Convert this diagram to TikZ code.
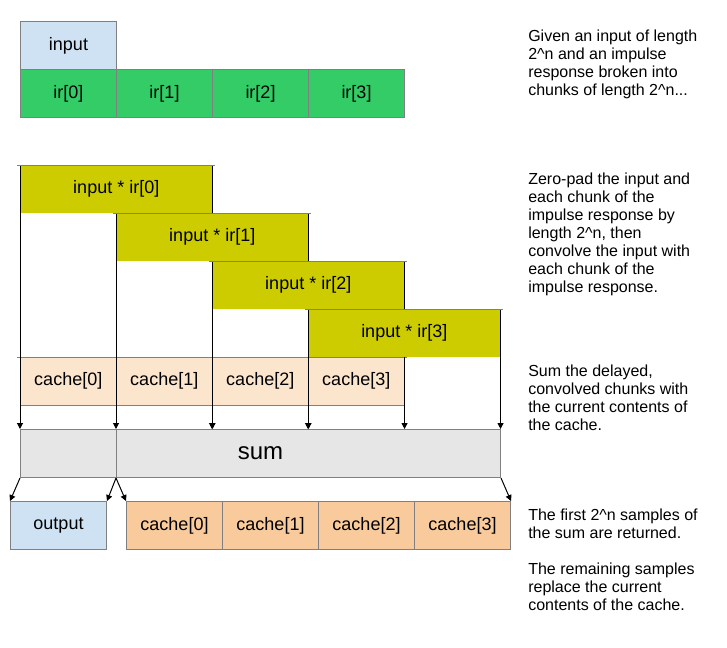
\documentclass[tikz,border=0pt]{standalone}
\usepackage{fontspec}
\setmainfont{Liberation Sans}
\usetikzlibrary{arrows.meta,positioning}
\definecolor{inblue}{HTML}{CFE2F3}
\definecolor{irgreen}{HTML}{33CC66}
\definecolor{convyel}{HTML}{CCCC00}
\definecolor{cachelt}{HTML}{FCE5CD}
\definecolor{cachedk}{HTML}{F9CB9C}
\definecolor{sumgray}{HTML}{E6E6E6}
\definecolor{edgegray}{HTML}{808080}
\pgfdeclarelayer{back}
\pgfdeclarelayer{mid}
\pgfsetlayers{back,mid,main}

\begin{document}
\begin{tikzpicture}[x=0.75pt, y=-0.75pt,
    every node/.style={font=\fontsize{13.5}{15}\selectfont},
    cell/.style={draw=edgegray, line width=0.75pt, minimum width=72pt,
                 minimum height=36pt, inner sep=0pt, anchor=north west},
    band/.style={minimum width=72pt, minimum height=36pt, inner sep=0pt,
                 anchor=north west},
    conv/.style={band, fill=convyel, minimum width=144pt},
    rim/.style={draw=edgegray, line width=0.75pt},
    side/.style={line width=0.75pt},
    arr/.style={-{Triangle[length=4.5pt, width=4.5pt]}, line width=0.75pt},
    note/.style={anchor=north west, inner sep=0pt, align=left,
                 font=\fontsize{12}{13.5}\selectfont},
  ]
  \useasboundingbox (0,0) rectangle (727,647);

  % input and the chunks of the impulse response
  \node[cell, fill=inblue] (in) at (20,21) {input};
  \foreach \i in {0,...,3}
    \node[cell, fill=irgreen] (ir\i) at (20+96*\i,69) {ir[\i]};

  % convolutions
  \foreach \i in {0,...,3} {
    \node[conv] (cv\i) at (20+96*\i,165+48*\i) {input * ir[\i]};
    \draw[side] (cv\i.north west) -- (cv\i.south west);
    \draw[side] (cv\i.north east) -- (cv\i.south east);
    \draw[rim] ([xshift=-2pt]cv\i.north west) -- ([xshift=2pt]cv\i.north east);
  }

  % cache
  \begin{pgfonlayer}{back}
    \foreach \i in {0,...,3}
      \node[band, fill=cachelt] (ca\i) at (20+96*\i,357) {cache[\i]};
    \draw[rim] ([xshift=-2pt]ca0.north west) -- ([xshift=2pt]ca3.north east);
    \draw[rim] (ca0.south west) -- (ca3.south east);
  \end{pgfonlayer}

  % sum
  \node[cell, fill=sumgray, minimum width=360pt,
        font=\fontsize{18}{20}\selectfont] (sum) at (20,429) {sum};
  \draw[rim] (ca1.north west |- sum.north) -- (ca1.north west |- sum.south);
  \coordinate (split) at (ca1.north west |- sum.south);

  \begin{pgfonlayer}{mid}
    \foreach \i in {0,...,3} {
      \draw[arr] (cv\i.north west) -- (cv\i.north west |- sum.north);
      \draw[arr] (cv\i.north east) -- (cv\i.north east |- sum.north);
    }
  \end{pgfonlayer}

  % output and new cache
  \node[cell, fill=inblue] (out) at (10,501) {output};
  \foreach \i in {0,...,3}
    \node[cell, fill=cachedk] (nc\i) at (126+96*\i,501) {cache[\i]};
  \draw[arr] (sum.south west) -- (out.north west);
  \draw[arr] (split) -- (out.north east);
  \draw[arr] (split) -- (nc0.north west);
  \draw[arr] (sum.south east) -- (nc3.north east);

  % notes
  \node[note] (t1) at (528,29.5) {Given an input of length\\
    2\textasciicircum n and an impulse\\response broken into\\
    chunks of length 2\textasciicircum n...};
  \node[note] (t2) at (528,173) {Zero-pad the input and\\each chunk of the\\
    impulse response by\\length 2\textasciicircum n, then\\
    convolve the input with\\each chunk of the\\impulse response.};
  \node[note] (t3) at (528,365) {Sum the delayed,\\convolved chunks with\\
    the current contents of\\the cache.};
  \node[note] (t4) at (528,509) {The first 2\textasciicircum n samples of\\
    the sum are returned.\\[13.5pt]The remaining samples\\
    replace the current\\contents of the cache.};
\end{tikzpicture}
\end{document}
